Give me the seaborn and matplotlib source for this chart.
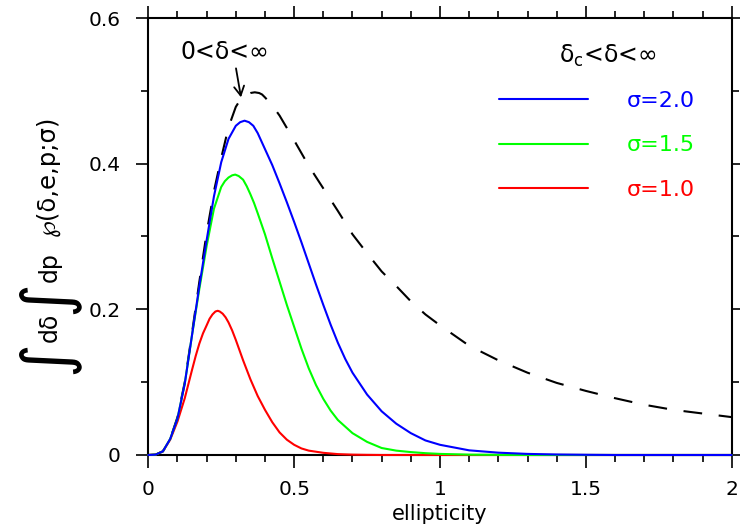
import matplotlib
matplotlib.use("Agg")
import matplotlib.pyplot as plt
import seaborn as sns
import pandas as pd
from matplotlib.ticker import FixedLocator, FixedFormatter, MultipleLocator

# ---- data ----
dash_e = [0, 0.025, 0.05, 0.075, 0.1, 0.125, 0.15, 0.175, 0.2, 0.225, 0.25, 0.275, 0.3, 0.3125,
          0.325, 0.3375, 0.35, 0.365, 0.38, 0.39, 0.4, 0.425, 0.45, 0.475, 0.5, 0.55, 0.6, 0.65,
          0.7, 0.75, 0.8, 0.85, 0.9, 0.95, 1.0, 1.1, 1.2, 1.3, 1.4, 1.5, 1.6, 1.7, 1.8, 1.9, 2.0]
dash_p = [0, 0.0005, 0.005, 0.022, 0.052, 0.100, 0.168, 0.238, 0.305, 0.362, 0.408, 0.450, 0.478,
          0.486, 0.492, 0.495, 0.497, 0.498, 0.497, 0.495, 0.491, 0.480, 0.466, 0.449, 0.432,
          0.397, 0.366, 0.335, 0.303, 0.277, 0.252, 0.232, 0.211, 0.193, 0.178, 0.150, 0.130,
          0.113, 0.099, 0.088, 0.078, 0.069, 0.062, 0.057, 0.052]

blue_e = [0, 0.025, 0.05, 0.075, 0.1, 0.125, 0.15, 0.175, 0.2, 0.225, 0.25, 0.275, 0.3, 0.315,
          0.33, 0.345, 0.36, 0.375, 0.4, 0.425, 0.45, 0.475, 0.5, 0.525, 0.55, 0.575, 0.6, 0.625,
          0.65, 0.675, 0.7, 0.75, 0.8, 0.85, 0.9, 0.95, 1.0, 1.1, 1.2, 1.3, 1.4, 1.5, 1.6, 2.0]
blue_p = [0, 0.0005, 0.005, 0.022, 0.050, 0.098, 0.165, 0.232, 0.295, 0.355, 0.402, 0.434, 0.452,
          0.457, 0.459, 0.457, 0.452, 0.442, 0.420, 0.398, 0.373, 0.347, 0.320, 0.292, 0.263,
          0.234, 0.206, 0.179, 0.154, 0.132, 0.113, 0.083, 0.060, 0.043, 0.030, 0.020, 0.014,
          0.0064, 0.0032, 0.0015, 0.0007, 0.0003, 0, 0]

green_e = [0, 0.025, 0.05, 0.075, 0.1, 0.125, 0.15, 0.175, 0.2, 0.225, 0.25, 0.2625, 0.275,
           0.2875, 0.298, 0.31, 0.325, 0.3375, 0.35, 0.3625, 0.375, 0.4, 0.425, 0.45, 0.475, 0.5,
           0.525, 0.55, 0.575, 0.6, 0.625, 0.65, 0.7, 0.75, 0.8, 0.85, 0.9, 0.95, 1.0, 1.1, 1.2,
           1.3, 2.0]
green_p = [0, 0.0005, 0.005, 0.022, 0.050, 0.098, 0.165, 0.228, 0.287, 0.338, 0.368, 0.376, 0.381,
           0.384, 0.385, 0.383, 0.378, 0.369, 0.358, 0.346, 0.332, 0.303, 0.270, 0.238, 0.206,
           0.176, 0.146, 0.119, 0.096, 0.077, 0.061, 0.048, 0.030, 0.018, 0.0096, 0.006, 0.004,
           0.0025, 0.0015, 0.0005, 0.0002, 0, 0]

red_e = [0, 0.025, 0.05, 0.075, 0.1, 0.125, 0.15, 0.1625, 0.175, 0.1875, 0.2, 0.21, 0.22, 0.23,
         0.238, 0.245, 0.255, 0.265, 0.275, 0.2875, 0.3, 0.3125, 0.325, 0.35, 0.375, 0.4, 0.425,
         0.45, 0.475, 0.5, 0.525, 0.55, 0.6, 0.65, 0.7, 0.75, 0.8, 2.0]
red_p = [0, 0.0005, 0.005, 0.021, 0.046, 0.078, 0.117, 0.136, 0.153, 0.167, 0.178, 0.187, 0.193,
         0.197, 0.198, 0.197, 0.194, 0.189, 0.182, 0.171, 0.158, 0.144, 0.130, 0.104, 0.081,
         0.062, 0.045, 0.031, 0.021, 0.014, 0.009, 0.006, 0.003, 0.0012, 0.0005, 0.0002, 0, 0]

series_labels = ["σ=2.0", "σ=1.5", "σ=1.0"]
series_colors = ["#0000ff", "#00ff00", "#ff0000"]

xticks = [0, 0.5, 1, 1.5, 2]
xticklabels = ["0", "0.5", "1", "1.5", "2"]
yticks = [0, 0.2, 0.4, 0.6]
yticklabels = ["0", "0.2", "0.4", "0.6"]

# ---- style ----
sns.set_theme(style="white")
plt.rcParams["font.family"] = ["DejaVu Sans"]
plt.rcParams["lines.scale_dashes"] = False
plt.rcParams["axes.linewidth"] = 1.5

W, H = 740, 531
fig = plt.figure(figsize=(W / 100, H / 100), dpi=100)
fig.patch.set_facecolor("white")
ax = fig.add_axes([148.3 / W, 1 - 455 / H, (731.7 - 148.3) / W, (455 - 18) / H])
ax.set_facecolor("white")

sns.lineplot(x=dash_e, y=dash_p, ax=ax, color="black", lw=1.5,
             linestyle=(0, (13.5, 12.0)), zorder=3, clip_on=False)
lines = {}
for lab, col, ex, py in [(series_labels[2], series_colors[2], red_e, red_p),
                         (series_labels[1], series_colors[1], green_e, green_p),
                         (series_labels[0], series_colors[0], blue_e, blue_p)]:
    df = pd.DataFrame({"e": ex, "p": py})
    sns.lineplot(data=df, x="e", y="p", ax=ax, color=col, lw=1.5, zorder=4,
                 clip_on=False, label=lab, legend=False)
    lines[lab] = ax.get_lines()[-1]

ax.set_xlim(0, 2)
ax.set_ylim(0, 0.6)
ax.xaxis.set_major_locator(FixedLocator(xticks))
ax.xaxis.set_major_formatter(FixedFormatter(xticklabels))
ax.yaxis.set_major_locator(FixedLocator(yticks))
ax.yaxis.set_major_formatter(FixedFormatter(yticklabels))
ax.xaxis.set_minor_locator(MultipleLocator(0.1))
ax.yaxis.set_minor_locator(MultipleLocator(0.1))
ax.tick_params(which="both", direction="out", top=True, right=True, bottom=True, left=True,
               labeltop=False, labelright=False, color="black", width=1.2, labelsize=14.5,
               labelcolor="black")
ax.tick_params(which="major", length=9)
ax.tick_params(which="minor", length=5)
ax.tick_params(axis="x", which="major", pad=9)
ax.tick_params(axis="y", which="major", pad=11)
for s in ax.spines.values():
    s.set_color("black")
    s.set_linewidth(1.5)

ax.set_xlabel("ellipticity", fontsize=15, color="black")
ax.xaxis.set_label_coords(0.5, -0.112)
ax.set_ylabel("")

# legend
leg = ax.legend(handles=[lines[l] for l in series_labels], labels=series_labels,
                loc="upper right", bbox_to_anchor=((695 - 148.3) / 583.4, (455 - 91) / 437),
                frameon=False, fontsize=16, handlelength=4.0, handletextpad=1.75,
                labelspacing=1.1, borderpad=0, borderaxespad=0, labelcolor="linecolor")

ax.text((608 - 148.3) / 583.4, (455 - 56) / 437, "δ$_\\mathregular{c}$<δ<∞",
        transform=ax.transAxes, ha="center", va="center", fontsize=17, color="black")

# 0<δ<∞ annotation
ax.text((225 - 148.3) / 583.4, (455 - 52) / 437, "0<δ<∞", transform=ax.transAxes,
        ha="center", va="center", fontsize=17, color="black")
ax.annotate("", xy=((241 - 148.3) / 291.7, (455 - 97) / 729),
            xytext=((236 - 148.3) / 291.7, (455 - 68) / 729),
            arrowprops=dict(arrowstyle="->,head_length=0.55,head_width=0.3", color="black",
                            lw=1.3, shrinkA=0, shrinkB=0), annotation_clip=False)

# y label assembled from pieces (rotated)
def ftext(x, y, s, size):
    fig.text(x / W, 1 - y / H, s, rotation=90, ha="center", va="center", fontsize=size,
             color="black")

ftext(46, 357, "∫", 47)
ftext(50, 327, "dδ", 17)
ftext(46, 297, "∫", 47)
ftext(50, 267, "dp", 17)
ftext(48, 176, "℘(δ,e,p;σ)", 17.5)

fig.savefig("out.png", dpi=100, facecolor="white")
